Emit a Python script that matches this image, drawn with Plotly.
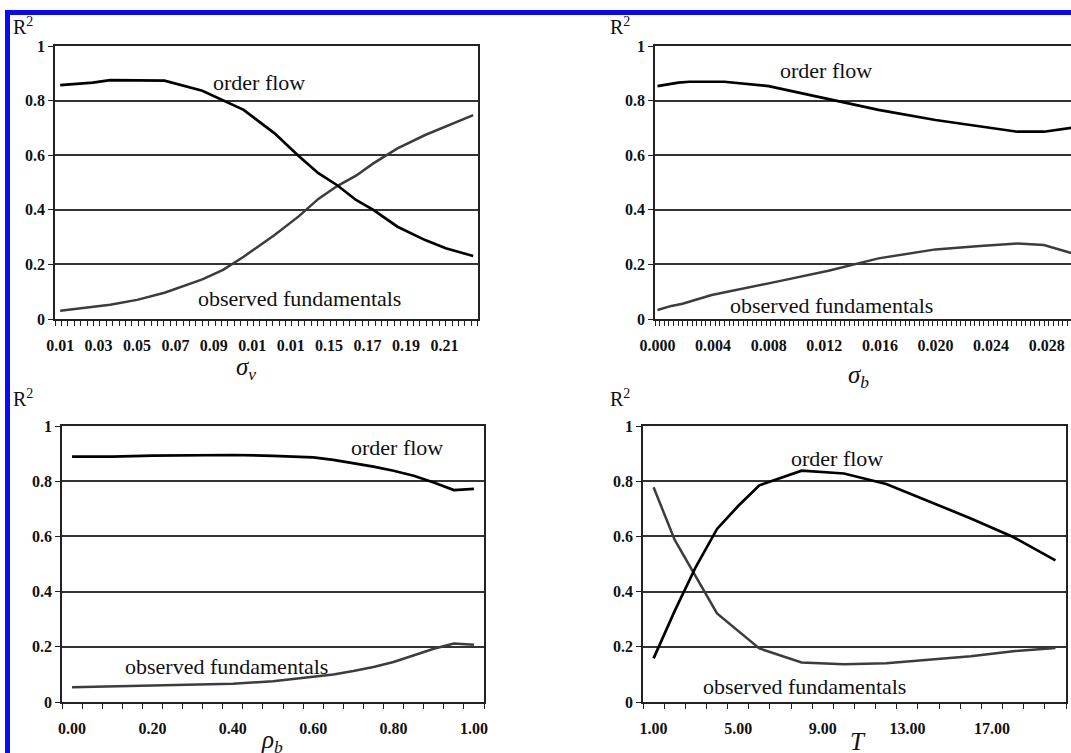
import plotly.graph_objects as go
import numpy as np

W, H = 1071, 753

# ---------------- data ----------------
# Panel 1: sigma_v
sv_x = [0.010, 0.027, 0.036, 0.050, 0.0643, 0.084, 0.0948, 0.1055, 0.1216, 0.134,
        0.1444, 0.1542, 0.164, 0.173, 0.1856, 0.200, 0.2107, 0.225]
sv_order = [0.857, 0.866, 0.875, 0.875, 0.873, 0.836, 0.800, 0.766, 0.680, 0.598,
            0.534, 0.490, 0.436, 0.400, 0.338, 0.289, 0.259, 0.231]
sv_obs = [0.030, 0.043, 0.052, 0.070, 0.096, 0.145, 0.180, 0.228, 0.308, 0.375,
          0.440, 0.487, 0.525, 0.570, 0.625, 0.674, 0.704, 0.747]
sv_tickvals = [0.01, 0.03, 0.05, 0.07, 0.09, 0.11, 0.13, 0.15, 0.17, 0.19, 0.21]
sv_ticktext = ["0.01", "0.03", "0.05", "0.07", "0.09", "0.01", "0.01", "0.15", "0.17", "0.19", "0.21"]

# Panel 2: sigma_b
sb_x_order = [0.0, 0.0015, 0.0023, 0.0048, 0.0080, 0.0110, 0.0135, 0.0159, 0.0200,
              0.0232, 0.0259, 0.0278, 0.0297, 0.0305]
sb_order = [0.853, 0.866, 0.869, 0.869, 0.853, 0.820, 0.795, 0.766, 0.729,
            0.707, 0.686, 0.686, 0.698, 0.705]
sb_x_obs = [0.0, 0.0010, 0.0018, 0.0039, 0.0086, 0.0123, 0.0159, 0.0200, 0.0232,
            0.0259, 0.0278, 0.0297, 0.0305]
sb_obs = [0.033, 0.048, 0.056, 0.088, 0.137, 0.177, 0.222, 0.255, 0.267,
          0.277, 0.271, 0.243, 0.235]
sb_tickvals = [0.000, 0.004, 0.008, 0.012, 0.016, 0.020, 0.024, 0.028]
sb_ticktext = ["0.000", "0.004", "0.008", "0.012", "0.016", "0.020", "0.024", "0.028"]

# Panel 3: rho_b
rb_x = [0.0, 0.1, 0.2, 0.3, 0.4, 0.5, 0.6, 0.65, 0.7, 0.75, 0.8, 0.85, 0.9, 0.95, 1.0]
rb_order = [0.889, 0.889, 0.893, 0.895, 0.895, 0.892, 0.886, 0.877, 0.866, 0.853,
            0.838, 0.820, 0.795, 0.768, 0.772]
rb_obs = [0.053, 0.056, 0.058, 0.062, 0.066, 0.075, 0.090, 0.100, 0.112, 0.127,
          0.145, 0.168, 0.193, 0.212, 0.207]
rb_tickvals = [0.0, 0.2, 0.4, 0.6, 0.8, 1.0]
rb_ticktext = ["0.00", "0.20", "0.40", "0.60", "0.80", "1.00"]

# Panel 4: T
t_x_order = [1, 2, 3, 4, 5, 6, 8, 10, 12, 14, 16, 18, 20]
t_order = [0.158, 0.330, 0.490, 0.627, 0.710, 0.785, 0.838, 0.828, 0.790, 0.728,
           0.665, 0.598, 0.513]
t_x_obs = [1, 2, 4, 6, 8, 10, 12, 14, 16, 18, 20]
t_obs = [0.778, 0.587, 0.321, 0.194, 0.143, 0.137, 0.140, 0.152, 0.166, 0.184, 0.196]
t_tickvals = [1, 5, 9, 13, 17]
t_ticktext = ["1.00", "5.00", "9.00", "13.00", "17.00"]

y_tickvals = [0, 0.2, 0.4, 0.6, 0.8, 1.0]
y_ticktext = ["0", "0.2", "0.4", "0.6", "0.8", "1"]

# ---------------- helpers ----------------
def fx(px):
    return px / W

def fy(py):
    return 1 - py / H

SERIF = "Liberation Serif, Times New Roman, serif"
ORDER_COLOR = "#000000"
OBS_COLOR = "#3c3c3c"
GRID = "#333333"

fig = go.Figure()

panels = [
    (sv_x, sv_order, sv_x, sv_obs, "x", "y"),
    (sb_x_order, sb_order, sb_x_obs, sb_obs, "x2", "y2"),
    (rb_x, rb_order, rb_x, rb_obs, "x3", "y3"),
    (t_x_order, t_order, t_x_obs, t_obs, "x4", "y4"),
]
for xo, yo, xb, yb, xa, ya in panels:
    fig.add_trace(go.Scatter(x=xb, y=yb, mode="lines", xaxis=xa, yaxis=ya,
                             line=dict(color=OBS_COLOR, width=2.5), showlegend=False))
    fig.add_trace(go.Scatter(x=xo, y=yo, mode="lines", xaxis=xa, yaxis=ya,
                             line=dict(color=ORDER_COLOR, width=2.7), showlegend=False))

tickfont = dict(family=SERIF, size=16, color="#111")


def xaxis_def(domain, rng, tickvals, ticktext, minor_vals, anchor, mirror=True):
    return dict(domain=domain, range=rng, anchor=anchor, automargin=False,
                tickmode="array", tickvals=tickvals,
                ticktext=["<b>%s</b>" % t for t in ticktext],
                ticks="", showgrid=False, zeroline=False,
                showline=True, linecolor="#222", linewidth=1.7, mirror=mirror,
                tickfont=tickfont, ticklabelstandoff=11,
                minor=dict(tickmode="array", tickvals=minor_vals, ticks="outside",
                           ticklen=5, tickwidth=1.3, tickcolor="#222", showgrid=False))


def yaxis_def(domain, anchor, mirror=True):
    return dict(domain=domain, range=[0, 1], anchor=anchor, automargin=False,
                tickmode="array", tickvals=y_tickvals,
                ticktext=["<b>%s</b>" % t for t in y_ticktext],
                ticks="outside", ticklen=5, tickwidth=1.3, tickcolor="#222",
                showgrid=True, gridcolor=GRID, gridwidth=1.6, zeroline=False,
                showline=True, linecolor="#222", linewidth=1.7, mirror=mirror,
                tickfont=tickfont)


# category boundaries for tick marks
sv_step = 0.02 / 6
sv_range = [0.0073, 0.2275]
sv_minor = list(np.arange(sv_range[0], sv_range[1] + 1e-9, sv_step))

sb_step = 0.004 / 12
sb_range = [-0.00018, 0.02975]
sb_minor = list(np.arange(sb_range[0], sb_range[1] + 1e-9, sb_step))

rb_range = [-0.025, 1.025]
rb_minor = list(np.arange(-0.025, 1.025 + 1e-9, 0.05))

t_range = [0.5, 20.5]
t_minor = list(np.arange(0.5, 20.5 + 1e-9, 1.0))

top_y = [fy(319), fy(46)]
bot_y = [fy(702), fy(426)]

fig.update_layout(
    width=W, height=H, autosize=False,
    margin=dict(l=0, r=0, t=0, b=0, pad=0),
    paper_bgcolor="white", plot_bgcolor="white",
    xaxis=xaxis_def([fx(55), fx(478)], sv_range, sv_tickvals, sv_ticktext, sv_minor, "y"),
    yaxis=yaxis_def(top_y, "x"),
    xaxis2=xaxis_def([fx(655), 1.0], sb_range, sb_tickvals, sb_ticktext, sb_minor, "y2"),
    yaxis2=yaxis_def(top_y, "x2", mirror=False),
    xaxis3=xaxis_def([fx(62), fx(484)], rb_range, rb_tickvals, rb_ticktext, rb_minor, "y3"),
    yaxis3=yaxis_def(bot_y, "x3"),
    xaxis4=xaxis_def([fx(643), fx(1066)], t_range, t_tickvals, t_ticktext, t_minor, "y4"),
    yaxis4=yaxis_def(bot_y, "x4"),
)

# ---------------- text ----------------
lab_font = dict(family=SERIF, size=22, color="#111")
ann = []


def add_text(text, px, py, font, xanchor="center"):
    ann.append(dict(text=text, x=fx(px), y=fy(py), xref="paper", yref="paper",
                    xanchor=xanchor, yanchor="middle", showarrow=False, font=font))


add_text("order flow", 259, 82, lab_font)
add_text("observed fundamentals", 299, 298, lab_font)
add_text("order flow", 826, 70, lab_font)
add_text("observed fundamentals", 831, 305, lab_font)
add_text("order flow", 397, 447, lab_font)
add_text("observed fundamentals", 226, 666, lab_font)
add_text("order flow", 837, 458, lab_font)
add_text("observed fundamentals", 804, 686, lab_font)

r2_font = dict(family=SERIF, size=20, color="#111")
add_text("R<sup>2</sup>", 11, 26, r2_font, xanchor="left")
add_text("R<sup>2</sup>", 608, 26, r2_font, xanchor="left")
add_text("R<sup>2</sup>", 11, 398, r2_font, xanchor="left")
add_text("R<sup>2</sup>", 608, 398, r2_font, xanchor="left")

ax_font = dict(family=SERIF, size=25, color="#111")
add_text("<i>σ</i><sub><i>v</i></sub>", 246, 368, ax_font)
add_text("<i>σ</i><sub><i>b</i></sub>", 858, 376, ax_font)
add_text("<i>ρ</i><sub><i>b</i></sub>", 272, 741, ax_font)
add_text("<i>T</i>", 858, 741, ax_font)

fig.update_layout(annotations=ann)

# blue frame (top and left edges)
fig.update_layout(shapes=[
    dict(type="rect", xref="paper", yref="paper", x0=fx(5), x1=1.0, y0=fy(15), y1=fy(10),
         fillcolor="#0a0af0", line=dict(width=0), layer="above"),
    dict(type="rect", xref="paper", yref="paper", x0=fx(5), x1=fx(10), y0=0, y1=fy(10),
         fillcolor="#0a0af0", line=dict(width=0), layer="above"),
])

fig.write_html(
    "out.html",
    config={"displayModeBar": False},
    post_script="document.body.style.margin='0';document.body.style.padding='0';"
                "document.body.style.overflow='hidden';",
)
